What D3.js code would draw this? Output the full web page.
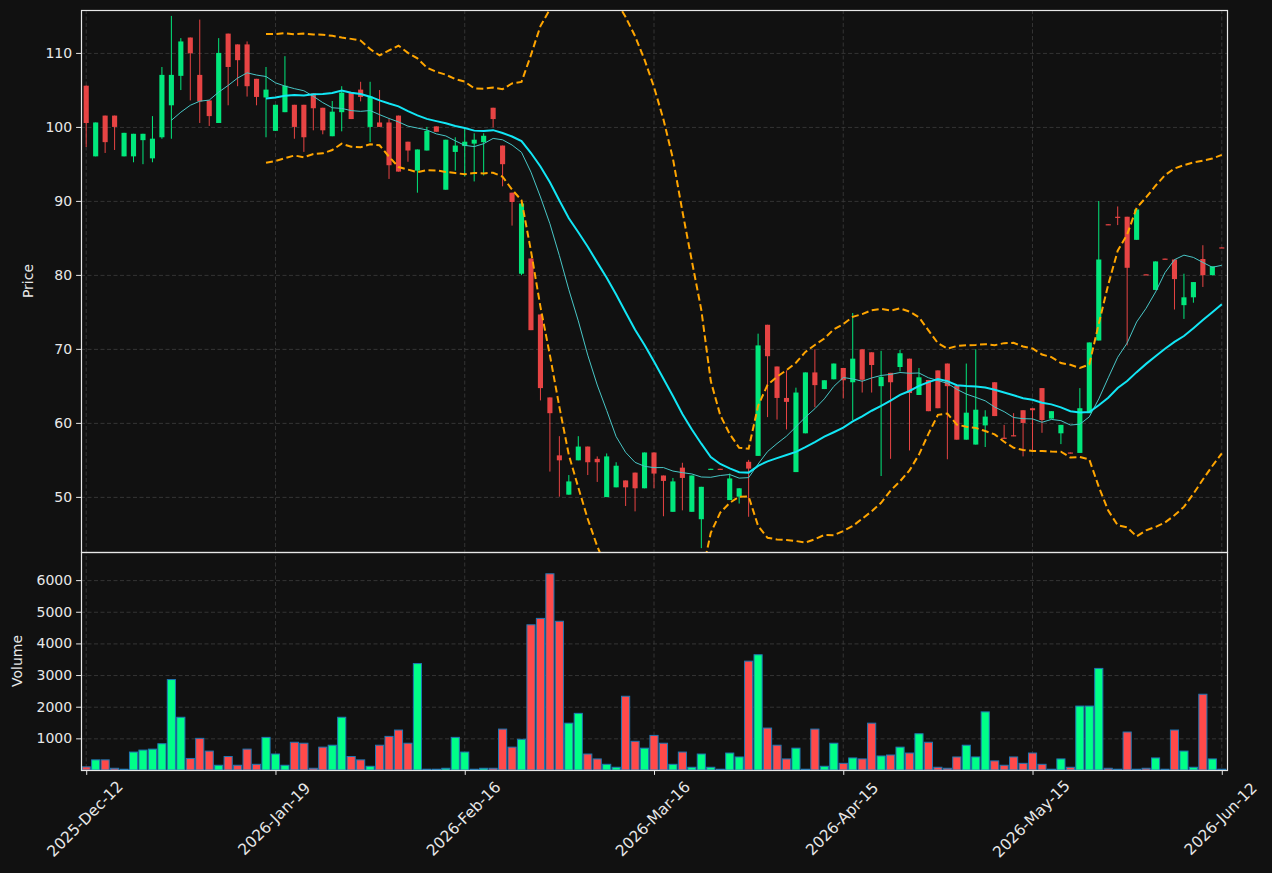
<!DOCTYPE html>
<html>
<head>
<meta charset="utf-8">
<script src="https://cdn.jsdelivr.net/npm/d3@7"></script>
<style>
  body { margin: 0; background: #111111; }
  svg { display: block; font-family: "DejaVu Sans", sans-serif; }
</style>
</head>
<body>
<svg id="grafico"></svg>
<script>
"use strict"

// OHLC + volume, one entry per trading session
const opens = [105.57,96.02,101.53,101.53,96.02,96.02,98.21,95.75,98.6,102.92,
  106.9,112.08,107.03,103.58,100.53,112.61,111.15,111.15,106.5,103.98,
  99.47,101.99,102.99,102.99,104.51,102.59,98.74,101.99,104.64,105.04,
  100.0,100.6,100.6,101.53,98.0,94.09,96.81,100.07,91.51,96.62,
  97.41,97.74,97.94,102.59,97.48,91.11,80.16,82.22,74.65,63.44,
  55.61,50.3,54.94,56.8,55.14,49.97,51.29,52.22,53.28,51.16,
  56.0,52.89,47.98,53.95,47.98,46.98,53.7,53.8,49.57,50.03,
  54.74,55.54,73.26,67.62,63.37,53.35,58.59,66.82,64.57,65.89,
  67.42,65.49,69.94,69.54,64.96,66.76,67.55,68.68,63.77,65.8,
  67.09,68.02,65.03,57.73,57.07,59.66,65.49,58.0,58.33,61.71,
  61.98,64.7,60.58,58.59,56.0,55.94,61.31,71.13,86.85,87.86,
  87.86,84.74,80.08,77.97,82.2,82.08,75.91,76.97,82.15,79.96,
  83.72];
const highs = [105.6,100.6,101.53,101.53,99.2,99.07,99.07,101.46,108.1,115.0,
  112.0,112.08,114.5,103.58,112.0,112.61,111.15,111.55,106.5,108.1,
  102.99,109.56,102.99,102.99,104.51,102.59,103.5,105.5,104.64,106.1,
  106.1,104.98,101.1,101.53,98.0,96.95,100.0,100.07,98.27,98.6,
  99.8,99.14,99.14,102.59,97.48,91.11,89.9,82.22,74.65,63.44,
  58.2,52.95,58.2,56.8,55.47,55.87,54.68,52.22,53.28,56.0,
  56.0,52.89,52.56,54.61,52.89,51.36,53.8,53.8,53.15,51.16,
  55.0,72.06,73.26,67.62,67.09,64.76,66.82,69.94,65.76,68.02,
  67.42,74.85,69.94,69.54,69.74,66.76,69.87,68.68,67.42,65.8,
  67.09,68.02,65.03,68.02,69.94,61.71,65.49,59.73,61.32,61.71,
  61.98,64.7,61.58,59.73,56.0,64.7,70.87,89.98,86.85,89.25,
  87.86,88.85,80.08,81.82,82.2,82.08,80.16,79.03,84.01,81.15,
  83.72];
const lows = [97.28,96.02,96.48,96.88,96.02,95.22,94.96,95.22,98.4,98.4,
  104.98,103.58,100.53,100.13,100.53,102.92,105.5,104.1,102.92,98.6,
  99.47,101.99,98.4,96.62,99.54,99.0,98.74,99.4,101.06,103.45,
  97.94,100.0,92.97,93.96,95.29,91.11,96.81,99.34,91.51,94.09,
  93.3,92.63,93.43,99.93,91.97,86.66,79.96,72.53,63.04,53.42,
  50.03,50.3,54.94,52.95,52.02,49.97,51.29,48.77,48.04,51.16,
  51.16,47.38,47.98,48.18,47.98,43.07,53.7,53.7,49.57,49.1,
  47.31,55.54,60.78,60.45,59.12,53.35,58.59,62.11,64.57,65.89,
  63.3,60.39,64.1,64.1,52.82,55.14,66.95,56.27,63.77,61.58,
  61.98,55.08,57.73,57.73,57.07,56.74,60.92,57.86,58.2,55.47,
  56.27,58.66,60.58,57.13,55.87,55.94,61.31,71.13,86.75,86.73,
  70.47,84.74,80.0,77.97,82.1,75.32,74.05,76.24,78.37,79.96,
  83.65];
const closes = [100.53,100.6,97.94,100.0,99.2,99.07,99.07,98.41,107.03,107.03,
  111.55,109.95,103.45,101.46,110.0,108.1,109.02,105.5,104.05,105.04,
  102.99,105.57,100.0,98.6,102.52,99.54,102.06,104.64,101.06,104.05,
  104.11,100.0,94.82,93.96,96.81,96.95,99.47,99.34,98.27,97.48,
  98.0,98.27,98.8,101.06,94.96,89.85,89.65,72.53,64.7,61.31,
  54.94,52.09,56.8,54.68,54.68,55.47,54.21,51.29,51.16,56.0,
  53.15,52.16,52.09,52.56,52.89,51.36,53.8,53.7,52.49,51.16,
  53.82,70.47,69.01,63.37,62.84,64.1,66.82,65.1,65.76,68.02,
  65.76,68.68,65.83,67.82,66.22,65.49,69.41,64.03,66.16,61.58,
  61.98,64.96,57.73,61.38,61.78,60.85,60.92,57.86,58.2,59.99,
  61.71,60.39,61.58,59.73,55.87,61.98,70.87,82.08,86.75,87.72,
  80.96,88.85,80.0,81.82,82.1,79.43,76.97,79.03,79.96,81.15,
  83.65];
const volumes = [100,320,320,55,25,567,630,660,830,2858,
  1666,365,1000,598,150,427,150,660,180,1031,
  505,150,877,846,55,722,783,1666,427,320,
  118,783,1062,1263,846,3363,25,25,55,1031,
  567,25,55,55,1293,722,970,4588,4790,6200,
  4700,1480,1790,505,350,180,87,2330,907,690,
  1093,846,180,567,87,505,87,25,536,412,
  3440,3642,1325,783,350,690,25,1293,118,846,
  211,381,350,1480,443,474,722,536,1145,877,
  87,55,412,783,412,1836,288,150,412,211,
  536,180,25,350,87,2020,2020,3210,55,25,
  1200,25,55,381,25,1263,598,87,2394,350,
  25];

const dateTickIdx = [0, 20, 40, 60, 80, 100, 120];
const dateLabels = ['2025-Dec-12', '2026-Jan-19', '2026-Feb-16', '2026-Mar-16',
  '2026-Apr-15', '2026-May-15', '2026-Jun-12'];
const priceTicks = [50, 60, 70, 80, 90, 100, 110];
const volumeTicks = [1000, 2000, 3000, 4000, 5000, 6000];

const corAlta = '#00ff88';
const corBaixa = '#ff4a4a';
const corTexto = '#e8e8e8';
const corGrade = '#3d3d3d';

// media movel e bandas de bollinger a partir dos fechamentos
function rolling(valores, n, fn){
  return valores.map((v, i) => i < n - 1 ? null : fn(valores.slice(i - n + 1, i + 1)));
}
const media = a => d3.mean(a);
const desvio = a => { const m = d3.mean(a); return Math.sqrt(d3.mean(a, v => (v - m) * (v - m))); };

function iniciar(){
  const largura = 1272;
  const altura = 873;
  const esquerda = 81, direita = 1227;
  const topoPreco = 10, basePreco = 552, baseVolume = 770;

  const dados = closes.map((c, i) => ({
    i: i, o: opens[i], h: highs[i], l: lows[i], c: c, v: volumes[i]
  }));
  const ma10 = rolling(closes, 10, media);
  const ma20 = rolling(closes, 20, media);
  const sd20 = rolling(closes, 20, desvio);
  const bandaSup = ma20.map((m, i) => m == null ? null : m + 2 * sd20[i]);
  const bandaInf = ma20.map((m, i) => m == null ? null : m - 2 * sd20[i]);

  const svg = d3.select('#grafico').attr('width', largura).attr('height', altura);
  svg.append('rect').attr('width', largura).attr('height', altura).attr('fill', '#111111');

  const x = d3.scaleLinear().domain([-0.55, dados.length - 0.45]).range([esquerda, direita]);
  const passo = x(1) - x(0);
  const y = d3.scaleLinear().domain([42.55, 115.8]).range([basePreco, topoPreco]);
  const yv = d3.scaleLinear().domain([0, d3.max(volumes) * 1.111]).range([baseVolume, basePreco]);

  const defs = svg.append('defs');
  defs.append('clipPath').attr('id', 'clipPreco').append('rect')
    .attr('x', esquerda).attr('y', topoPreco)
    .attr('width', direita - esquerda).attr('height', basePreco - topoPreco);

  // grades
  const grade = svg.append('g').attr('stroke', corGrade).attr('stroke-width', 0.8)
    .attr('stroke-dasharray', '4,2.5');
  grade.selectAll('.gp').data(priceTicks).enter().append('line')
    .attr('x1', esquerda).attr('x2', direita)
    .attr('y1', d => y(d) + 0.5).attr('y2', d => y(d) + 0.5);
  grade.selectAll('.gv').data(volumeTicks).enter().append('line')
    .attr('x1', esquerda).attr('x2', direita)
    .attr('y1', d => yv(d) + 0.5).attr('y2', d => yv(d) + 0.5);
  grade.selectAll('.gx').data(dateTickIdx).enter().append('line')
    .attr('x1', d => x(d)).attr('x2', d => x(d))
    .attr('y1', topoPreco).attr('y2', baseVolume);

  // volume
  svg.append('g').selectAll('.vol').data(dados).enter().append('rect')
    .attr('x', d => x(d.i) - passo * 0.43)
    .attr('width', passo * 0.86)
    .attr('y', d => yv(d.v))
    .attr('height', d => baseVolume - yv(d.v))
    .attr('fill', d => d.c >= d.o ? corAlta : corBaixa)
    .attr('stroke', '#1f77b4').attr('stroke-width', 1);

  // candles
  const candles = svg.append('g').attr('clip-path', 'url(#clipPreco)').attr('opacity', 0.9);
  candles.selectAll('.pavio').data(dados).enter().append('line')
    .attr('x1', d => x(d.i)).attr('x2', d => x(d.i))
    .attr('y1', d => y(d.h)).attr('y2', d => y(d.l))
    .attr('stroke', d => d.c >= d.o ? corAlta : corBaixa).attr('stroke-width', 1);
  candles.selectAll('.corpo').data(dados).enter().append('rect')
    .attr('x', d => x(d.i) - passo * 0.27)
    .attr('width', passo * 0.54)
    .attr('y', d => y(Math.max(d.o, d.c)))
    .attr('height', d => Math.max(1.2, Math.abs(y(d.o) - y(d.c))))
    .attr('fill', d => d.c >= d.o ? corAlta : corBaixa);

  // linhas
  const linhas = svg.append('g').attr('clip-path', 'url(#clipPreco)').attr('fill', 'none');
  const linha = serie => d3.line()
    .defined(d => d != null)
    .x((d, i) => x(i))
    .y(d => y(d))(serie);
  linhas.append('path').attr('d', linha(ma10)).attr('stroke', '#48c6c6').attr('stroke-width', 1);
  linhas.append('path').attr('d', linha(ma20)).attr('stroke', '#12e6f5').attr('stroke-width', 2);
  [bandaSup, bandaInf].forEach(b => {
    linhas.append('path').attr('d', linha(b))
      .attr('stroke', '#ffa500').attr('stroke-width', 2).attr('stroke-dasharray', '7,3.5');
  });

  // molduras
  svg.append('rect').attr('x', esquerda + 0.5).attr('y', topoPreco + 0.5)
    .attr('width', direita - esquerda).attr('height', basePreco - topoPreco)
    .attr('fill', 'none').attr('stroke', corTexto).attr('stroke-width', 1.2);
  svg.append('rect').attr('x', esquerda + 0.5).attr('y', basePreco + 0.5)
    .attr('width', direita - esquerda).attr('height', baseVolume - basePreco)
    .attr('fill', 'none').attr('stroke', corTexto).attr('stroke-width', 1.2);

  // eixos
  const eixoY = svg.append('g').attr('transform', `translate(${esquerda},0)`)
    .call(d3.axisLeft(y).tickValues(priceTicks).tickSize(4.9).tickPadding(4));
  const eixoV = svg.append('g').attr('transform', `translate(${esquerda},0)`)
    .call(d3.axisLeft(yv).tickValues(volumeTicks).tickSize(4.9).tickPadding(4).tickFormat(d3.format('d')));
  const eixoX = svg.append('g').attr('transform', `translate(0,${baseVolume})`)
    .call(d3.axisBottom(x).tickValues(dateTickIdx).tickSize(4.9).tickFormat((d, i) => dateLabels[i]));
  [eixoY, eixoV, eixoX].forEach(g => {
    g.select('.domain').remove();
    g.selectAll('line').attr('stroke', corTexto);
    g.selectAll('text').attr('fill', corTexto).attr('font-size', 14)
      .attr('font-family', '"DejaVu Sans", sans-serif');
  });
  eixoX.selectAll('text')
    .attr('font-size', 15.4)
    .attr('text-anchor', 'middle').attr('dy', null).attr('dominant-baseline', 'central')
    .attr('y', 49).attr('x', -1.5)
    .attr('transform', 'rotate(-45, -1.5, 49)');

  svg.append('text').text('Price')
    .attr('transform', `translate(33,${(topoPreco + basePreco) / 2}) rotate(-90)`)
    .attr('text-anchor', 'middle').attr('fill', corTexto).attr('font-size', 14);
  svg.append('text').text('Volume')
    .attr('transform', `translate(22,${(basePreco + baseVolume) / 2}) rotate(-90)`)
    .attr('text-anchor', 'middle').attr('fill', corTexto).attr('font-size', 14);
}

window.addEventListener('load', iniciar, false);
</script>
</body>
</html>
